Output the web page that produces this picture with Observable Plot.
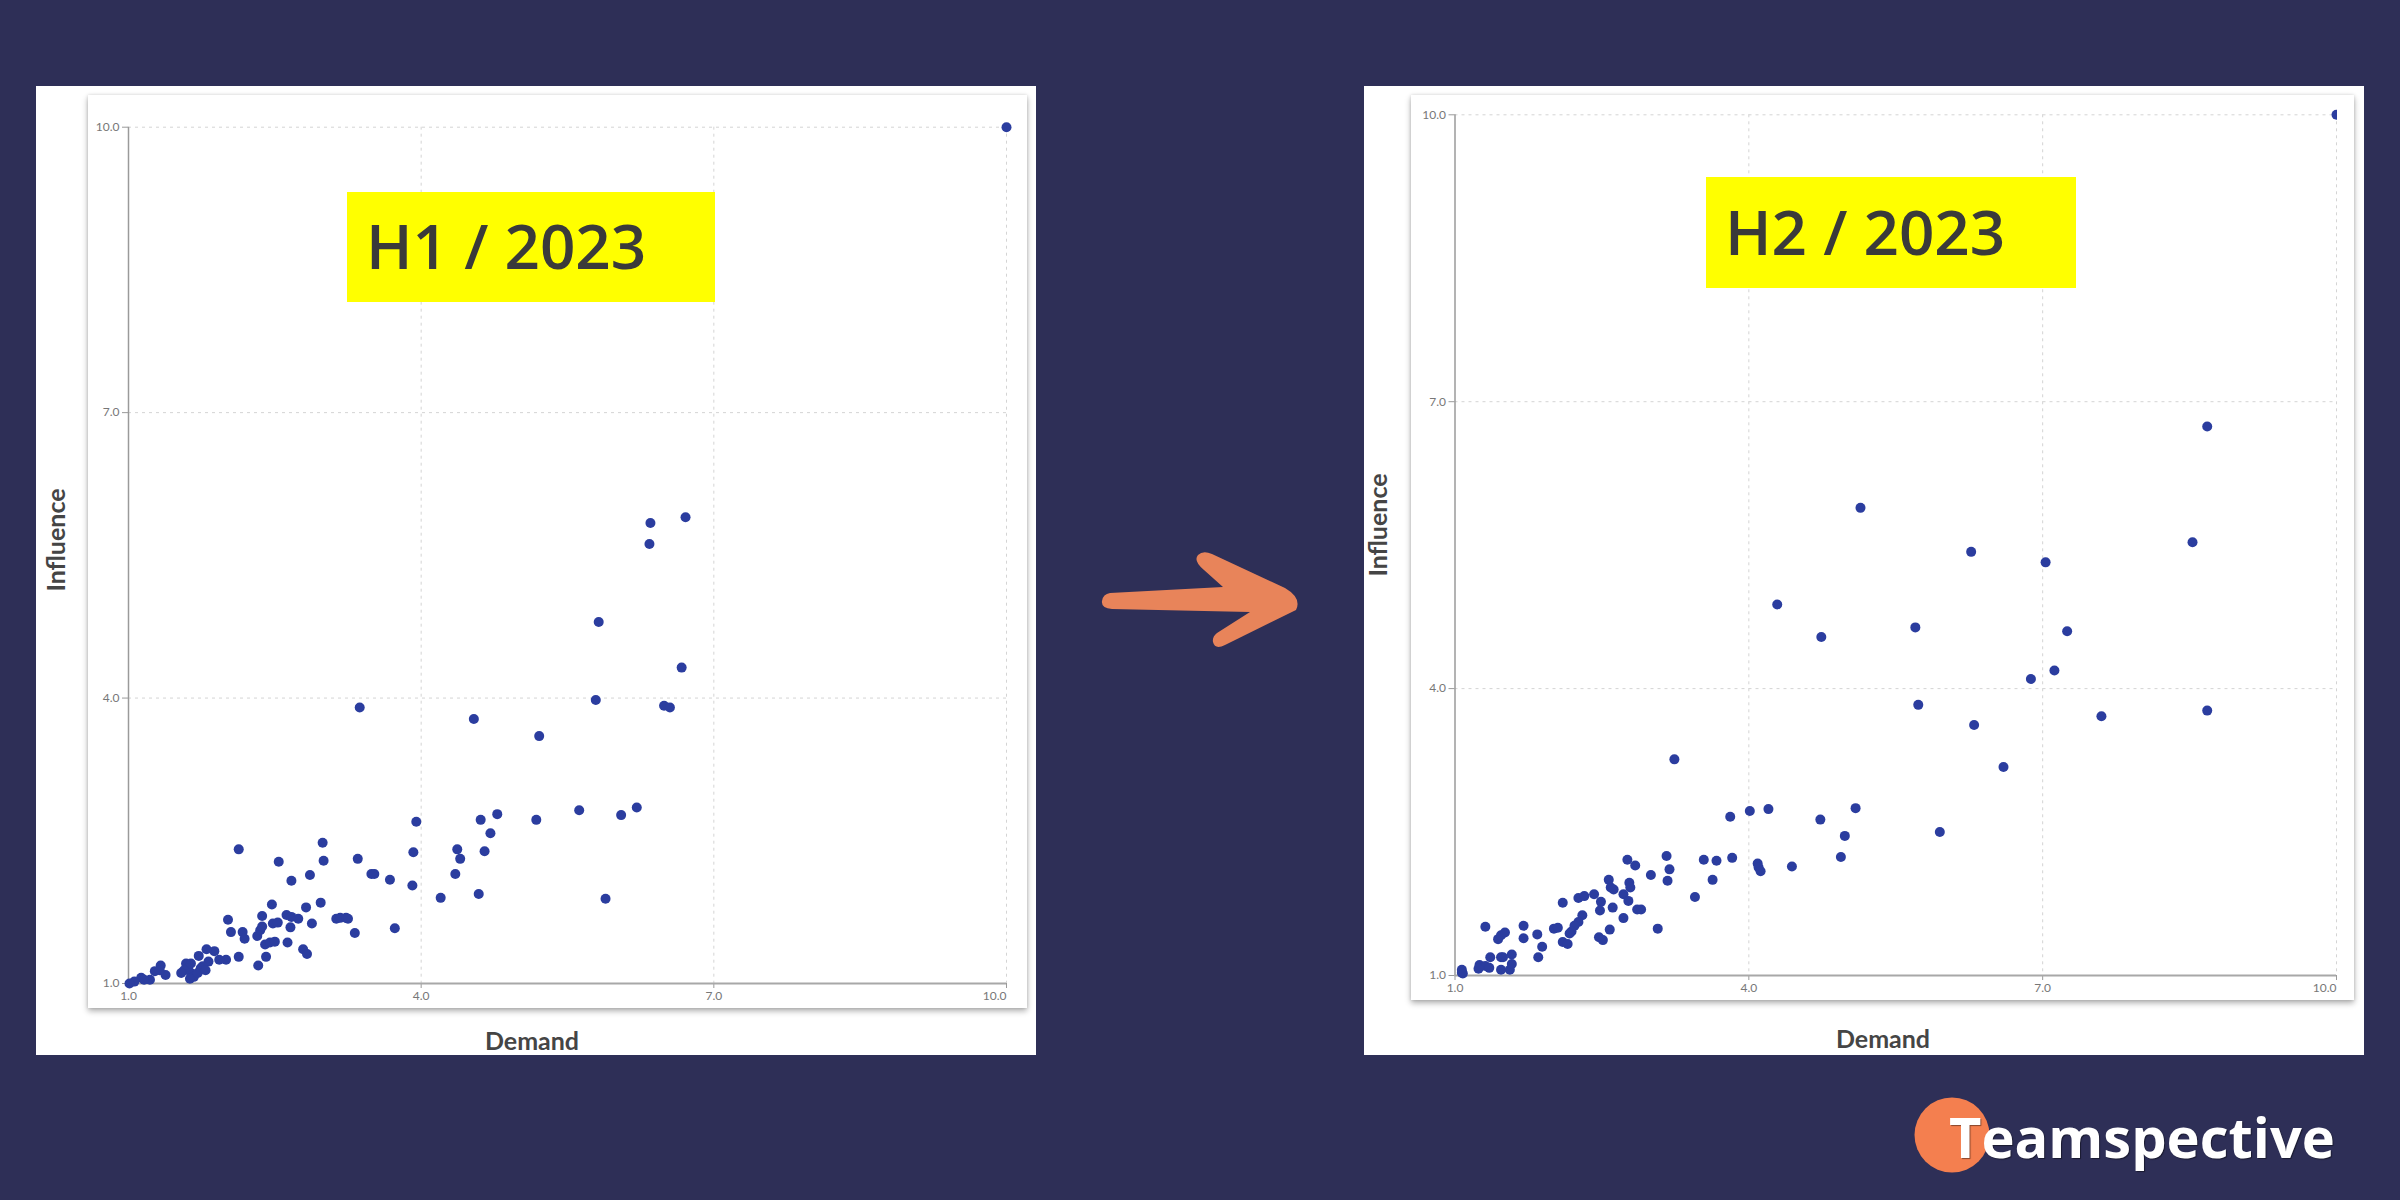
<!DOCTYPE html>
<html>
<head>
<meta charset="utf-8">
<script src="https://cdn.jsdelivr.net/npm/d3@7"></script>
<script src="https://cdn.jsdelivr.net/npm/@observablehq/plot@0.6"></script>
<style>
  html, body { margin: 0; padding: 0; }
  #page { position: relative; width: 2400px; height: 1200px; background: #2e2f57; overflow: hidden; font-family: Lato, sans-serif; }
  .panel { position: absolute; background: #ffffff; }
  .card { position: absolute; background: #ffffff; box-shadow: 0 3px 6px rgba(0,0,0,0.32), 0 0 3px rgba(0,0,0,0.12); }
  .chart { position: absolute; }
  #overlay { position: absolute; left: 0; top: 0; pointer-events: none; }
</style>
</head>
<body>
<div id="page">
  <div class="panel" style="left:36px;top:86px;width:1000px;height:969px"></div>
  <div class="panel" style="left:1364px;top:86px;width:1000px;height:969px"></div>
  <div class="card" style="left:88px;top:95px;width:939px;height:913px"></div>
  <div class="card" style="left:1411px;top:95px;width:943px;height:905px"></div>
  <div class="chart" id="c1" style="left:88px;top:95px"></div>
  <div class="chart" id="c2" style="left:1411px;top:95px"></div>
  <svg id="overlay" width="2400" height="1200" viewBox="0 0 2400 1200">
    <rect x="347" y="192" width="368" height="110" fill="#ffff00"/>
    <text x="366" y="269" font-family="Open Sans" font-weight="600" font-size="62" fill="#3a3a3a">H1 / 2023</text>
    <rect x="1706" y="177" width="370" height="111" fill="#ffff00"/>
    <text x="1725" y="255" font-family="Open Sans" font-weight="600" font-size="62" fill="#3a3a3a">H2 / 2023</text>

    <text x="532" y="1040" text-anchor="middle" dominant-baseline="central" font-family="Lato" font-weight="700" font-size="25" fill="#454545">Demand</text>
    <text transform="translate(54.5,540) rotate(-90)" text-anchor="middle" dominant-baseline="central" font-family="Lato" font-weight="700" font-size="25" fill="#454545">Influence</text>
    <text x="1883" y="1037.5" text-anchor="middle" dominant-baseline="central" font-family="Lato" font-weight="700" font-size="25" fill="#454545">Demand</text>
    <text transform="translate(1377,525) rotate(-90)" text-anchor="middle" dominant-baseline="central" font-family="Lato" font-weight="700" font-size="25" fill="#454545">Influence</text>

    <path transform="translate(1080,520)" fill="#e8845a"
      d="M30,73 L143,67 L124,50 Q113,41 118,35 Q123,30 132,34 L205,68 Q222,78 216,90 L145,125 Q135,130 133,122 Q132,117 137,113 L170,92 L32,89 Q21,88 22,81 Q23,74 30,73 Z"/>

    <circle cx="1952" cy="1135" r="37.5" fill="#f47f4f"/>
    <text x="1949" y="1158" font-family="Open Sans" font-weight="700" font-size="56" fill="#ffffff" style="text-shadow:1px 1px 1px rgba(0,0,0,0.45)">Teamspective</text>
  </svg>
</div>
<script>
// ---- data ----
const axisTicks = [1, 4, 7, 10];
const tickLabels = ["1.0", "4.0", "7.0", "10.0"];

const h1Demand = [10, 6.35, 6.71, 6.34, 5.82, 6.67, 5.79, 6.49, 6.55, 3.37, 4.54, 5.21, 5.62, 6.21, 6.05, 5.18, 4.78, 4.61, 4.71, 3.95,
  4.37, 4.40, 4.65, 3.92, 4.35, 3.91, 4.20, 4.59, 5.89, 3.35, 2.13, 2.99, 2.54, 3.00, 2.67, 2.86, 3.49, 3.52, 3.68, 3.73,
  3.32, 2.97, 2.82, 2.88, 3.13, 3.17, 3.23, 3.25, 2.47, 2.37, 2.48, 2.53, 2.62, 2.67, 2.74, 2.66, 2.02, 2.05, 2.17, 2.19,
  2.32, 2.35, 2.37, 2.40, 2.45, 2.50, 2.63, 2.41, 2.33, 2.79, 2.83, 2.13, 2.00, 1.88, 1.80, 1.72, 1.82, 1.76, 1.93, 1.59,
  1.64, 1.61, 1.57, 1.54, 1.64, 1.67, 1.63, 1.74, 1.71, 1.79, 1.33, 1.27, 1.38, 1.32, 1.22, 1.13, 1.06, 1.01, 1.16];
const h1Influence = [10, 5.84, 5.90, 5.62, 4.80, 4.32, 3.98, 3.92, 3.90, 3.90, 3.78, 3.60, 2.82, 2.85, 2.77, 2.72, 2.78, 2.72, 2.58, 2.70,
  2.41, 2.31, 2.39, 2.38, 2.15, 2.03, 1.90, 1.94, 1.89, 2.31, 2.41, 2.48, 2.28, 2.29, 2.08, 2.14, 2.15, 2.15, 2.09, 1.58,
  1.53, 1.85, 1.80, 1.63, 1.68, 1.69, 1.69, 1.68, 1.83, 1.71, 1.63, 1.64, 1.72, 1.70, 1.68, 1.59, 1.67, 1.54, 1.54, 1.47,
  1.50, 1.56, 1.60, 1.41, 1.43, 1.44, 1.43, 1.28, 1.19, 1.36, 1.31, 1.28, 1.25, 1.34, 1.36, 1.29, 1.23, 1.18, 1.25, 1.21,
  1.21, 1.16, 1.14, 1.11, 1.11, 1.07, 1.05, 1.16, 1.11, 1.14, 1.19, 1.13, 1.09, 1.14, 1.04, 1.06, 1.02, 1.00, 1.04];

const h2Demand = [10, 8.68, 5.14, 6.27, 7.03, 8.53, 4.29, 4.74, 5.70, 7.25, 7.12, 6.88, 5.73, 6.30, 7.60, 8.68, 6.60, 3.24, 5.95, 5.09,
  4.98, 4.94, 4.73, 4.20, 4.01, 3.81, 4.44, 4.09, 4.10, 4.12, 2.76, 2.84, 3.16, 3.19, 3.17, 3.00, 3.54, 3.67, 3.83, 3.63,
  3.45, 3.07, 2.57, 2.59, 2.62, 2.78, 2.79, 2.72, 2.77, 2.42, 2.49, 2.48, 2.61, 2.72, 2.86, 2.90, 2.58, 2.47, 2.51, 2.26,
  2.32, 2.10, 2.30, 2.26, 2.22, 2.19, 2.17, 2.01, 2.05, 2.10, 2.15, 1.70, 1.70, 1.84, 1.89, 1.85, 1.31, 1.44, 1.47, 1.51,
  1.36, 1.47, 1.58, 1.49, 1.25, 1.31, 1.35, 1.24, 1.47, 1.56, 1.58, 1.07, 1.08, 1.07];
const h2Influence = [10, 6.74, 5.89, 5.43, 5.32, 5.53, 4.88, 4.54, 4.64, 4.60, 4.19, 4.10, 3.83, 3.62, 3.71, 3.77, 3.18, 3.26, 2.50, 2.75,
  2.46, 2.24, 2.63, 2.74, 2.72, 2.66, 2.14, 2.17, 2.13, 2.09, 2.21, 2.15, 2.25, 2.11, 1.99, 2.05, 2.21, 2.20, 2.23, 2.00,
  1.82, 1.49, 2.00, 1.92, 1.90, 1.97, 1.92, 1.85, 1.78, 1.85, 1.77, 1.68, 1.71, 1.60, 1.69, 1.69, 1.48, 1.40, 1.37, 1.81,
  1.83, 1.76, 1.63, 1.56, 1.52, 1.46, 1.44, 1.49, 1.50, 1.35, 1.33, 1.52, 1.39, 1.43, 1.30, 1.19, 1.51, 1.38, 1.42, 1.45,
  1.19, 1.19, 1.22, 1.19, 1.11, 1.10, 1.08, 1.07, 1.06, 1.06, 1.12, 1.06, 1.02, 1.03];

function makeChart(demand, influence, cfg) {
  const data = demand.map((x, i) => ({x, y: influence[i]}));
  const fmt = d => tickLabels[axisTicks.indexOf(d)];
  const axisStyle = {fontSize: 12, fill: "#777", stroke: "#9a9a9a", tickPadding: 3};
  return Plot.plot({
    width: cfg.width,
    height: cfg.height,
    marginLeft: cfg.ml, marginRight: cfg.mr, marginTop: cfg.mt, marginBottom: cfg.mb,
    x: {domain: [1, 10]},
    y: {domain: [1, 10]},
    style: {background: "transparent", fontFamily: "Lato, sans-serif", overflow: cfg.overflow, color: "#777"},
    marks: [
      Plot.gridX(axisTicks.slice(1), {stroke: "#d4d4d4", strokeOpacity: 1, strokeWidth: 1, strokeDasharray: "3,4"}),
      Plot.gridY(axisTicks.slice(1), {stroke: "#d4d4d4", strokeOpacity: 1, strokeWidth: 1, strokeDasharray: "3,4"}),
      Plot.axisX(axisTicks.slice(0, -1), {...axisStyle, tickSize: 5, tickFormat: fmt, label: null}),
      Plot.axisX(axisTicks.slice(-1), {...axisStyle, tickSize: 5, tickFormat: fmt, textAnchor: "end", label: null}),
      Plot.axisY(axisTicks, {...axisStyle, tickSize: 6, tickFormat: fmt, label: null}),
      Plot.ruleX([1], {stroke: "#9a9a9a", strokeWidth: 1.5}),
      Plot.ruleY([1], {stroke: "#a8a8a8", strokeWidth: 1.8}),
      Plot.dot(data, {x: "x", y: "y", r: 5, fill: "#2b3d9f", stroke: "none"})
    ]
  });
}

document.getElementById("c1").appendChild(makeChart(h1Demand, h1Influence,
  {width: 939, height: 913, ml: 40, mr: 21, mt: 31.7, mb: 25, overflow: "visible"}));
document.getElementById("c2").appendChild(makeChart(h2Demand, h2Influence,
  {width: 926, height: 905, ml: 43.5, mr: 1, mt: 19.3, mb: 25, overflow: "hidden"}));
</script>
</body>
</html>
